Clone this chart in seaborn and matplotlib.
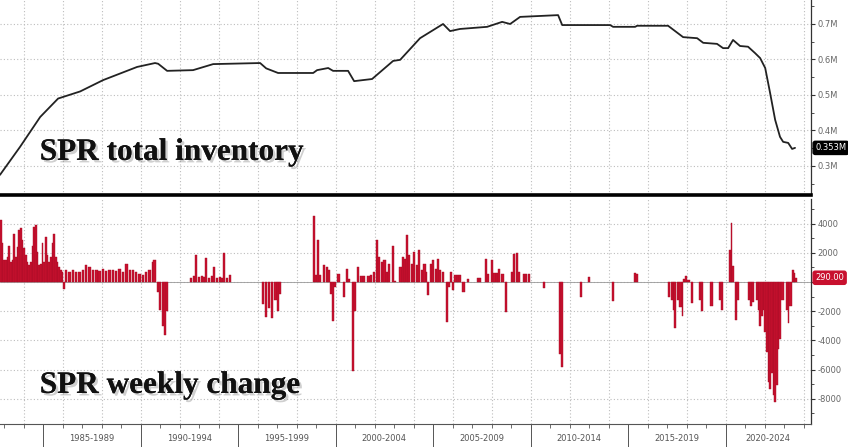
import numpy as np
import matplotlib
matplotlib.use("Agg")
import matplotlib.pyplot as plt
import matplotlib.patheffects as pe
from matplotlib.ticker import MultipleLocator, FixedLocator, FuncFormatter
import seaborn as sns

# ---------------- data ----------------
# SPR total inventory (shown in the chart as "M" units)
inv_years = [1982.79, 1983.82, 1984.85, 1985.77, 1986.90, 1988.08, 1989.82, 1990.74,
             1990.90, 1991.36, 1992.69, 1993.72, 1996.13, 1996.44, 1997.05, 1998.85,
             1999.05, 1999.62, 1999.87, 2000.64, 2000.95, 2001.87, 2002.95, 2003.31,
             2004.33, 2005.51, 2005.87, 2006.38, 2007.77, 2008.54, 2008.95, 2009.46,
             2011.41, 2011.62, 2014.08, 2014.23, 2015.36, 2015.46, 2017.05, 2017.82,
             2018.54, 2018.85, 2019.56, 2019.87, 2020.13, 2020.38, 2020.74, 2021.15,
             2021.51, 2021.77, 2022.03, 2022.28, 2022.54, 2022.79, 2022.95, 2023.21,
             2023.41, 2023.56]
inv_values = [0.275, 0.354, 0.438, 0.490, 0.510, 0.542, 0.579, 0.590,
              0.588, 0.568, 0.570, 0.587, 0.590, 0.575, 0.562, 0.562,
              0.570, 0.576, 0.568, 0.568, 0.539, 0.545, 0.596, 0.599,
              0.660, 0.700, 0.680, 0.686, 0.692, 0.706, 0.700, 0.720,
              0.725, 0.697, 0.697, 0.692, 0.692, 0.695, 0.695, 0.663,
              0.660, 0.647, 0.644, 0.632, 0.632, 0.655, 0.638, 0.636,
              0.618, 0.604, 0.576, 0.506, 0.430, 0.382, 0.368, 0.365,
              0.348, 0.351]

# SPR weekly change (thousand barrels)
chg_years = [
    1982.79, 1982.88, 1982.96, 1983.05, 1983.13, 1983.22, 1983.30, 1983.39, 1983.47, 1983.56,
    1983.64, 1983.73, 1983.82, 1983.90, 1983.99, 1984.07, 1984.16, 1984.24, 1984.33, 1984.42,
    1984.50, 1984.59, 1984.67, 1984.76, 1984.84, 1984.93, 1985.01, 1985.10, 1985.18, 1985.27,
    1985.36, 1985.44, 1985.53, 1985.61, 1985.70, 1985.78, 1985.87,
    1985.96, 1986.03, 1986.13, 1986.30, 1986.47, 1986.64, 1986.81, 1986.98, 1987.15, 1987.32,
    1987.50, 1987.67, 1987.84, 1988.01, 1988.18, 1988.35, 1988.52, 1988.69, 1988.86, 1989.04,
    1989.21, 1989.38, 1989.55, 1989.72, 1989.89, 1990.06, 1990.23, 1990.40, 1990.57, 1990.66,
    1990.85, 1990.95, 1991.10, 1991.21, 1991.31,
    1992.54, 1992.69, 1992.79, 1992.95, 1993.10, 1993.21, 1993.31, 1993.46, 1993.62, 1993.72,
    1993.87, 1994.03, 1994.13, 1994.23, 1994.38, 1994.54,
    1996.23, 1996.38, 1996.54, 1996.69, 1996.85, 1997.00, 1997.10,
    1998.85, 1998.95, 1999.05, 1999.15, 1999.36, 1999.51, 1999.62, 1999.72, 1999.82, 1999.92,
    2000.08, 2000.38, 2000.54, 2000.64, 2000.85, 2000.93, 2001.10, 2001.26, 2001.41, 2001.62,
    2001.77, 2001.92, 2002.08, 2002.18, 2002.33, 2002.44, 2002.59, 2002.69, 2002.90, 2003.00,
    2003.26, 2003.41, 2003.51, 2003.62, 2003.72, 2003.87, 2003.97, 2004.13, 2004.23, 2004.38,
    2004.49, 2004.64, 2004.69, 2004.85, 2004.95, 2005.10, 2005.21, 2005.31, 2005.46, 2005.67,
    2005.77, 2005.87, 2005.97, 2006.08, 2006.23, 2006.33, 2006.49, 2006.74, 2007.26, 2007.36,
    2007.67, 2007.77, 2007.97, 2008.08, 2008.23, 2008.33, 2008.49, 2008.69, 2009.00, 2009.10,
    2009.26, 2009.36, 2009.62, 2009.72, 2009.87, 2010.64, 2011.46, 2011.56, 2012.54, 2012.95,
    2014.18, 2015.31, 2015.41, 2017.05, 2017.21, 2017.31, 2017.36, 2017.51, 2017.62, 2017.77,
    2017.82, 2017.92, 2018.03, 2018.23, 2018.64, 2018.74, 2019.21, 2019.67, 2019.77, 2020.18,
    2020.28, 2020.33, 2020.49, 2020.59, 2021.15, 2021.26, 2021.36, 2021.56, 2021.67, 2021.72,
    2021.82, 2021.92, 2021.97, 2022.08, 2022.18, 2022.23, 2022.33, 2022.44, 2022.49, 2022.59,
    2022.69, 2022.74, 2022.85, 2023.10, 2023.21, 2023.26, 2023.41, 2023.51, 2023.56]
chg_values = [
    4250, 2650, 1500, 1500, 1700, 2500, 1400, 1500, 3300, 1700,
    2400, 3550, 3700, 2900, 2300, 1850, 1400, 1150, 1400, 2500,
    3800, 3900, 2050, 1150, 1250, 2650, 1400, 3100, 1850, 1400,
    1700, 2650, 3300, 1700, 1400, 1050, 800,
    700, -460, 800, 700, 800, 700, 700, 800, 1150, 1000,
    850, 800, 750, 900, 740, 800, 850, 750, 900, 700,
    1200, 850, 800, 700, 580, 460, 700, 800, 1400, 1500,
    -700, -1900, -3000, -3650, -2000,
    300, 400, 1850, 350, 400, 350, 1650, 300, 400, 1000,
    300, 350, 300, 2000, 300, 500,
    -1500, -2400, -1800, -2500, -1200, -2000, -800,
    4500, 460, 2900, 500, 1150, 1000, 800, -800, -2650, -350,
    575, -1030, 920, 230, -6100, -2000, 1030, 390, 390, 390,
    460, 690, 2900, 1700, 1400, 1500, 690, 1250, 2500, 100,
    1030, 1700, 1600, 3200, 1850, 1250, 2050, 1150, 2200, 800,
    1250, 690, -920, 1250, 1500, 920, 1600, 800, 690, -2760,
    -350, 690, -530, 460, 460, 460, -690, 230, 300, 300,
    1600, 575, 1500, 620, 650, 920, 530, -2070, 690, 1900,
    2000, 690, 530, 530, 530, -390, -4900, -5800, -1000, 340,
    -1330, 620, 570, -1000, -1200, -1900, -3150, -1200, -1700, -2350,
    200, 430, 160, -1450, -1200, -2000, -1670, -1200, -1900, 2200,
    4050, 1070, -2600, -1200, -1200, -1650, -1400, -1200, -1900, -3000,
    -2300, -1900, -3450, -4800, -6850, -7300, -6200, -7750, -8200, -7070,
    -4600, -3900, -1200, -1900, -2800, -1650, 840, 650, 290]

period_starts = [1985, 1990, 1995, 2000, 2005, 2010, 2015, 2020]
period_labels = ["1985-1989", "1990-1994", "1995-1999", "2000-2004",
                 "2005-2009", "2010-2014", "2015-2019", "2020-2024"]
last_inventory_label = "0.353M"
last_change_label = "290.00"
top_title = "SPR total inventory"
bottom_title = "SPR weekly change"

# ---------------- style ----------------
sns.set_theme(style="white")
plt.rcParams['font.family'] = ['DejaVu Sans']

RED = "#c8102e"
GRID = dict(color="#bdbdbd", linestyle=(0, (1, 2)), linewidth=0.8)
XMIN, XMAX = 1982.79, 2024.38

fig = plt.figure(figsize=(8.48, 4.47), dpi=100)
ax1 = fig.add_axes([0.0, 0.5638, 0.9564, 0.4362])
ax2 = fig.add_axes([0.0, 0.0515, 0.9564, 0.5033])

# ---------------- top panel ----------------
sns.lineplot(x=inv_years, y=inv_values, ax=ax1, color="#222222", linewidth=1.3)
ax1.set_xlim(XMIN, XMAX)
ax1.set_ylim(0.2183, 0.7676)

# ---------------- bottom panel ----------------
d = np.array(chg_years)
gaps = np.diff(d, append=d[-1] + 0.1)
widths = np.clip(gaps, 0.05, 0.12)
ax2.bar(d, chg_values, width=widths, align="edge", color=RED,
        edgecolor="#a50d26", linewidth=0.3, zorder=3)
ax2.axhline(0, color="#999999", linewidth=0.6, zorder=2)
ax2.set_xlim(XMIN, XMAX)
ax2.set_ylim(-9726, 5685)

even_years = list(range(1984, 2025, 2))
odd_years = list(range(1983, 2025, 2))
for ax in (ax1, ax2):
    ax.yaxis.tick_right()
    for s in ("left", "top"):
        ax.spines[s].set_visible(False)
    ax.spines["right"].set_color("#333333")
    ax.spines["right"].set_linewidth(0.9)
    ax.xaxis.set_major_locator(FixedLocator(even_years))
    ax.xaxis.set_minor_locator(FixedLocator(odd_years))
    ax.grid(True, which="major", **GRID)
    ax.set_axisbelow(True)
    ax.tick_params(axis="y", which="major", direction="out", length=3, width=0.8,
                   color="#333333", labelsize=6, labelcolor="#666666", pad=1.5,
                   right=True, left=False)
    ax.tick_params(axis="y", which="minor", direction="out", length=2, width=0.6,
                   color="#333333", right=True, left=False)
    ax.set_xlabel("")
    ax.set_ylabel("")

ax1.yaxis.set_major_locator(FixedLocator([0.3, 0.4, 0.5, 0.6, 0.7]))
ax1.yaxis.set_minor_locator(MultipleLocator(0.05))
ax1.yaxis.set_major_formatter(FuncFormatter(lambda v, p: f"{v:.1f}M"))
ax1.tick_params(axis="x", which="both", length=0, labelbottom=False)
ax1.spines["bottom"].set_color("black")
ax1.spines["bottom"].set_linewidth(2.6)

ax2.yaxis.set_major_locator(MultipleLocator(2000))
ax2.yaxis.set_minor_locator(MultipleLocator(1000))
# the zero label sits under the last-value box, as in the original
ax2.yaxis.set_major_formatter(FuncFormatter(lambda v, p: "" if abs(v) < 1 else f"{int(round(v))}"))
ax2.spines["bottom"].set_color("#555555")
ax2.spines["bottom"].set_linewidth(0.8)
ax2.tick_params(axis="x", which="both", direction="out", length=3, width=0.6,
                color="#555555", labelbottom=False, bottom=True)

# period separators and centred period labels
sep = ax2.secondary_xaxis("bottom")
sep.set_xticks(period_starts)
sep.tick_params(length=17, width=0.7, color="#555555", labelbottom=False)
sep.spines["bottom"].set_visible(False)

centers = [(a + min(a + 5, XMAX)) / 2 for a in period_starts]
lab = ax2.secondary_xaxis("bottom")
lab.set_xticks(centers, period_labels)
lab.tick_params(length=0, pad=7, labelsize=6, labelcolor="#555555")
lab.spines["bottom"].set_visible(False)

# big panel titles with soft shadow
shadow = [pe.withSimplePatchShadow(offset=(1.8, -1.8), shadow_rgbFace="#888888", alpha=0.4),
          pe.Normal()]
ax1.text(0.049, 0.18, top_title, transform=ax1.transAxes, ha="left", va="baseline",
         fontsize=22.5, fontweight="bold", family=["Liberation Serif"], color="#111111",
         path_effects=shadow, zorder=5)
ax2.text(0.049, 0.138, bottom_title, transform=ax2.transAxes, ha="left", va="baseline",
         fontsize=22.5, fontweight="bold", family=["Liberation Serif"], color="#111111",
         path_effects=shadow, zorder=5)

# last value boxes
ax1.annotate(last_inventory_label, xy=(1.0, inv_values[-1]),
             xycoords=("axes fraction", "data"), xytext=(3, 0), textcoords="offset points",
             ha="left", va="center", fontsize=6, color="white", annotation_clip=False,
             bbox=dict(boxstyle="round,pad=0.25", fc="black", ec="black"))
ax2.annotate(last_change_label, xy=(1.0, chg_values[-1]),
             xycoords=("axes fraction", "data"), xytext=(3, 0), textcoords="offset points",
             ha="left", va="center", fontsize=6, color="white", annotation_clip=False,
             bbox=dict(boxstyle="round,pad=0.25", fc=RED, ec=RED))

fig.savefig("out.png", dpi=100, facecolor="white")
